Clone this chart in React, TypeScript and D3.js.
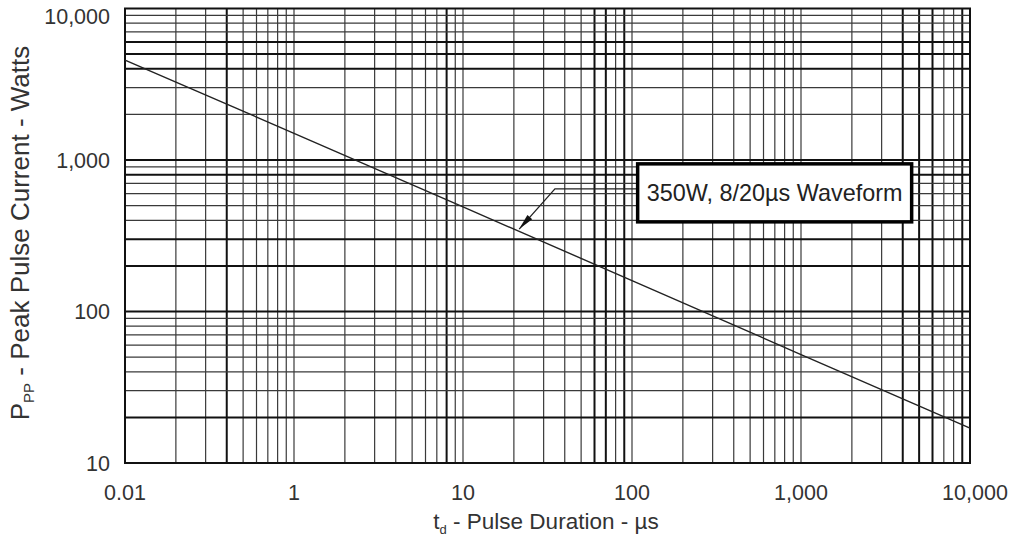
import React from "react";
import * as d3 from "d3";

// ---- Data ----
const pulseDuration = [0.1, 1, 10, 100, 1000, 10000]; // µs (grid decades)
const peakPower = [4570, 1500, 490, 160, 52, 17]; // Watts

const xTickValues = [0.1, 1, 10, 100, 1000, 10000];
const xTickLabels = ["0.01", "1", "10", "100", "1,000", "10,000"];
const yTickValues = [10, 100, 1000, 10000];
const yTickLabels = ["10", "100", "1,000", "10,000"];

const annotationText = "350W, 8/20µs Waveform";
const annotationTip = { x: 21.5, y: 350 };
const annotationElbow = { x: 35, y: 645 };
const annotationBoxLeft = 108;

// grid lines drawn heavier in the scan
const boldX = [0.4, 8, 60, 70, 90, 4000, 5000, 6000, 9000];
const boldY = [6000, 5000, 4000, 1000, 800, 300, 200, 100, 20];

const W = 1014;
const H = 542;
const FONT = "'Liberation Sans', Arial, Helvetica, sans-serif";

export default function App() {
  const x = d3.scaleLog().domain([0.1, 10000]).range([125, 970]);
  const y = d3.scaleLog().domain([10, 10000]).range([463, 8.5]);

  const xGrid = x.ticks();
  const yGrid = y.ticks();
  const isBold = (arr: number[], v: number) =>
    arr.some((b) => Math.abs(b - v) / b < 1e-6);

  const points = pulseDuration.map((d, i) => [d, peakPower[i]] as [number, number]);
  const line = d3
    .line<[number, number]>()
    .x((d) => x(d[0]))
    .y((d) => y(d[1]));

  const tipX = x(annotationTip.x);
  const tipY = y(annotationTip.y);
  const elX = x(annotationElbow.x);
  const elY = y(annotationElbow.y);
  const boxX = x(annotationBoxLeft);
  const boxW = 274;
  const boxH = 58;
  const boxY = elY - boxH / 2 + 4;

  // arrowhead
  const ang = Math.atan2(tipY - elY, tipX - elX);
  const aLen = 16;
  const aW = 3.2;
  const bx = tipX - aLen * Math.cos(ang);
  const by = tipY - aLen * Math.sin(ang);
  const px = -Math.sin(ang);
  const py = Math.cos(ang);
  const arrowPts = [
    [tipX, tipY],
    [bx + px * aW, by + py * aW],
    [bx - px * aW, by - py * aW],
  ]
    .map((p) => p.join(","))
    .join(" ");

  return (
    <svg
      width={W}
      height={H}
      style={{ position: "absolute", left: 0, top: 0, background: "#fff" }}
      fontFamily={FONT}
    >
      <rect x={0} y={0} width={W} height={H} fill="#fff" />
      {/* grid */}
      <g>
        {xGrid.map((v, i) => (
          <line
            key={"gx" + i}
            x1={x(v)}
            x2={x(v)}
            y1={y(10000)}
            y2={y(10)}
            stroke={isBold(boldX, v) ? "#111" : "#3a3a3a"}
            strokeWidth={isBold(boldX, v) ? 2 : 1.2}
          />
        ))}
        {yGrid.map((v, i) => (
          <line
            key={"gy" + i}
            x1={x(0.1)}
            x2={x(10000)}
            y1={y(v)}
            y2={y(v)}
            stroke={isBold(boldY, v) ? "#111" : "#3a3a3a"}
            strokeWidth={isBold(boldY, v) ? 2 : 1.2}
          />
        ))}
        <rect
          x={x(0.1)}
          y={y(10000)}
          width={x(10000) - x(0.1)}
          height={y(10) - y(10000)}
          fill="none"
          stroke="#111"
          strokeWidth={2}
        />
      </g>

      {/* curve */}
      <path d={line(points) || ""} fill="none" stroke="#222" strokeWidth={1.4} />

      {/* annotation */}
      <polyline
        points={`${boxX},${elY} ${elX},${elY} ${tipX},${tipY}`}
        fill="none"
        stroke="#222"
        strokeWidth={1.3}
      />
      <polygon points={arrowPts} fill="#111" />
      <rect
        x={boxX}
        y={boxY}
        width={boxW}
        height={boxH}
        fill="#fff"
        stroke="#000"
        strokeWidth={3.5}
      />
      <text
        x={boxX + boxW / 2}
        y={boxY + boxH / 2 + 8}
        textAnchor="middle"
        fontSize={23.4}
        fill="#222"
      >
        {annotationText}
      </text>

      {/* y tick labels */}
      {yTickValues.map((v, i) => (
        <text
          key={"yl" + i}
          x={110}
          y={Math.max(y(v), 16) + 7.5}
          textAnchor="end"
          fontSize={21.5}
          fill="#333"
        >
          {yTickLabels[i]}
        </text>
      ))}
      {/* x tick labels */}
      {xTickValues.map((v, i) => (
        <text
          key={"xl" + i}
          x={x(v) + (i === xTickValues.length - 1 ? 5 : 0)}
          y={500}
          textAnchor="middle"
          fontSize={21.5}
          fill="#333"
        >
          {xTickLabels[i]}
        </text>
      ))}

      {/* axis titles */}
      <text x={546} y={529} textAnchor="middle" fontSize={22.5} fill="#333">
        t
        <tspan fontSize={13} dy={5}>
          d
        </tspan>
        <tspan dy={-5}> - Pulse Duration - µs</tspan>
      </text>
      <text
        transform={`translate(29,${233}) rotate(-90)`}
        textAnchor="middle"
        fontSize={26}
        fill="#333"
      >
        P
        <tspan fontSize={15} dy={5}>
          PP
        </tspan>
        <tspan dy={-5}> - Peak Pulse Current - Watts</tspan>
      </text>
    </svg>
  );
}
